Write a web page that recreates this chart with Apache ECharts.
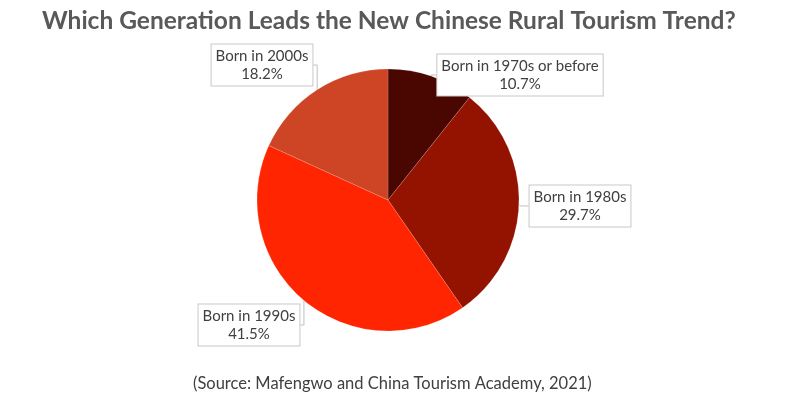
<!DOCTYPE html>
<html><head><meta charset="utf-8">
<script src="https://cdn.jsdelivr.net/npm/echarts@6/dist/echarts.min.js"></script>
<style>html,body{margin:0;padding:0;background:#fff}#c{width:800px;height:396px}</style>
</head><body><div id="c"></div>
<script>
const categories = ["Born in 1970s or before", "Born in 1980s", "Born in 1990s", "Born in 2000s"];
const shares = [10.7, 29.7, 41.5, 18.2];
const colors = ["#4a0600", "#941300", "#ff2500", "#cd4524"];
const titleText = "Which Generation Leads the New Chinese Rural Tourism Trend?";
const sourceText = "(Source: Mafengwo and China Tourism Academy, 2021)";

const labelPos = [[520, 75], [580, 206], [249, 325], [262, 65]];
const chart = echarts.init(document.getElementById('c'));
chart.setOption({
  backgroundColor: '#fff',
  title: [{
    text: titleText, left: 37, top: 4,
    textStyle: {fontFamily: 'Lato, DejaVu Sans', fontSize: 24.5, fontWeight: 'bold', color: '#595959'}
  }, {
    text: sourceText, left: 188, top: 370,
    textStyle: {fontFamily: 'Lato, DejaVu Sans', fontSize: 16.5, fontWeight: 'normal', color: '#404040'}
  }],
  series: [{
    type: 'pie',
    center: [388, 200],
    radius: 131,
    startAngle: 90,
    clockwise: true,
    animation: false,
    data: categories.map((c, i) => ({name: c, value: shares[i], itemStyle: {color: colors[i]}})),
    itemStyle: {borderColor: 'rgba(255,255,255,0.3)', borderWidth: 0.5},
    label: {
      show: true,
      formatter: p => p.name + '\n' + p.value.toFixed(1) + '%',
      fontFamily: 'Lato, DejaVu Sans', fontSize: 15, color: '#404040',
      lineHeight: 18, align: 'center',
      backgroundColor: '#fff', borderColor: '#c8c8c8', borderWidth: 1,
      padding: [3, 4, 2, 4]
    },
    labelLine: {show: true, length: 8, length2: 8, lineStyle: {color: '#bfbfbf', width: 1}},
    labelLayout: p => ({x: labelPos[p.dataIndex][0], y: labelPos[p.dataIndex][1], align: 'center', verticalAlign: 'middle'})
  }]
});
</script></body></html>
